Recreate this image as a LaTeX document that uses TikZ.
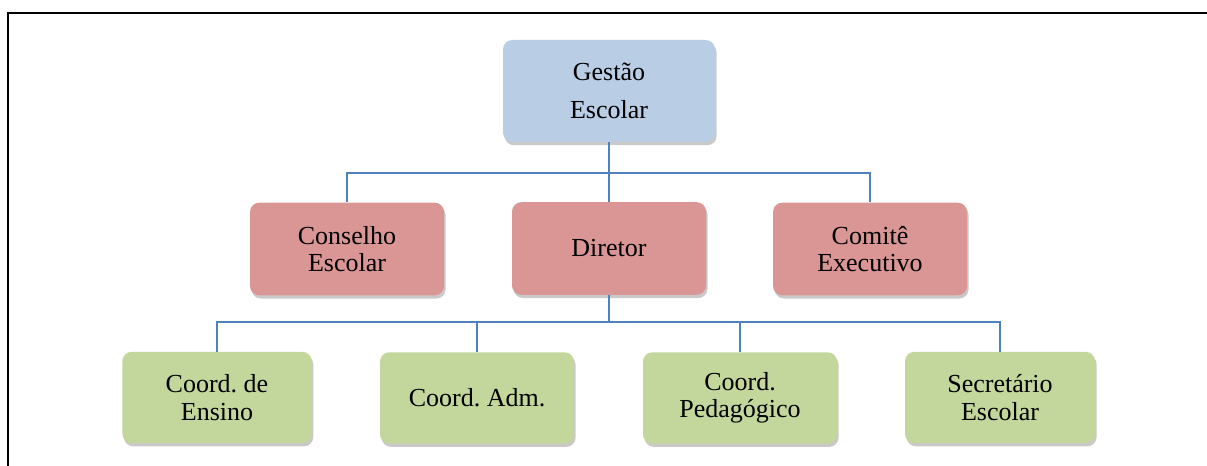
\documentclass[tikz,border=0pt]{standalone}
\usepackage{fontspec}
\setmainfont{Liberation Serif}
\usetikzlibrary{shadows}
\definecolor{bluefill}{RGB}{185,205,229}
\definecolor{redfill}{RGB}{217,150,148}
\definecolor{greenfill}{RGB}{195,214,155}
\definecolor{linkblue}{RGB}{79,129,189}
\frenchspacing
\tikzset{
  orgbox/.style={rectangle, rounded corners=7pt, inner sep=0pt, align=center,
    font=\fontsize{19.5pt}{20.5pt}\selectfont,
    drop shadow={opacity=0.3, shadow xshift=1.2pt, shadow yshift=-2.4pt, fill=black!70}},
  toplevel/.style={orgbox, fill=bluefill, minimum width=159pt, minimum height=76.5pt,
    font=\fontsize{19.5pt}{28.5pt}\selectfont},
  midlevel/.style={orgbox, fill=redfill, minimum width=145.5pt, minimum height=69.5pt},
  lowlevel/.style={orgbox, fill=greenfill, minimum width=143pt, minimum height=68.5pt},
  link/.style={draw=linkblue, line width=1.2pt},
  frameline/.style={draw=black, line width=1.6pt}
}
\begin{document}
\begin{tikzpicture}[x=0.75pt,y=-0.75pt]
\useasboundingbox (0,0) rectangle (1207,466);
\draw[frameline] (8,466) -- (8,13) -- (1207,13);

\node[toplevel] (g) at (609,91) {Gestão\\Escolar};

\node[midlevel] (cons) at (347,249) {Conselho\\Escolar};
\node[midlevel] (dir) at (609,248.5) {Diretor};
\node[midlevel] (com) at (870,249) {Comitê\\Executivo};

\node[lowlevel, minimum width=142pt] (ens) at (217,397.5) {Coord. de\\Ensino};
\node[lowlevel, minimum width=145.5pt] (adm) at (477,398) {Coord. Adm.};
\node[lowlevel, minimum width=145.5pt] (ped) at (740,398) {Coord.\\Pedagógico};
\node[lowlevel, minimum width=142.5pt] (sec) at (1000,397.5) {Secretário\\Escolar};

\coordinate (j1) at (609,173);
\coordinate (j2) at (609,322);

\draw[link] (g.south) -- (j1);
\draw[link] (j1) -| (cons.north);
\draw[link] (j1) -| (com.north);
\draw[link] (j1) -- (dir.north);

\draw[link] (dir.south) -- (j2);
\draw[link] (j2) -| (ens.north);
\draw[link] (j2) -| (adm.north);
\draw[link] (j2) -| (ped.north);
\draw[link] (j2) -| (sec.north);
\end{tikzpicture}
\end{document}
